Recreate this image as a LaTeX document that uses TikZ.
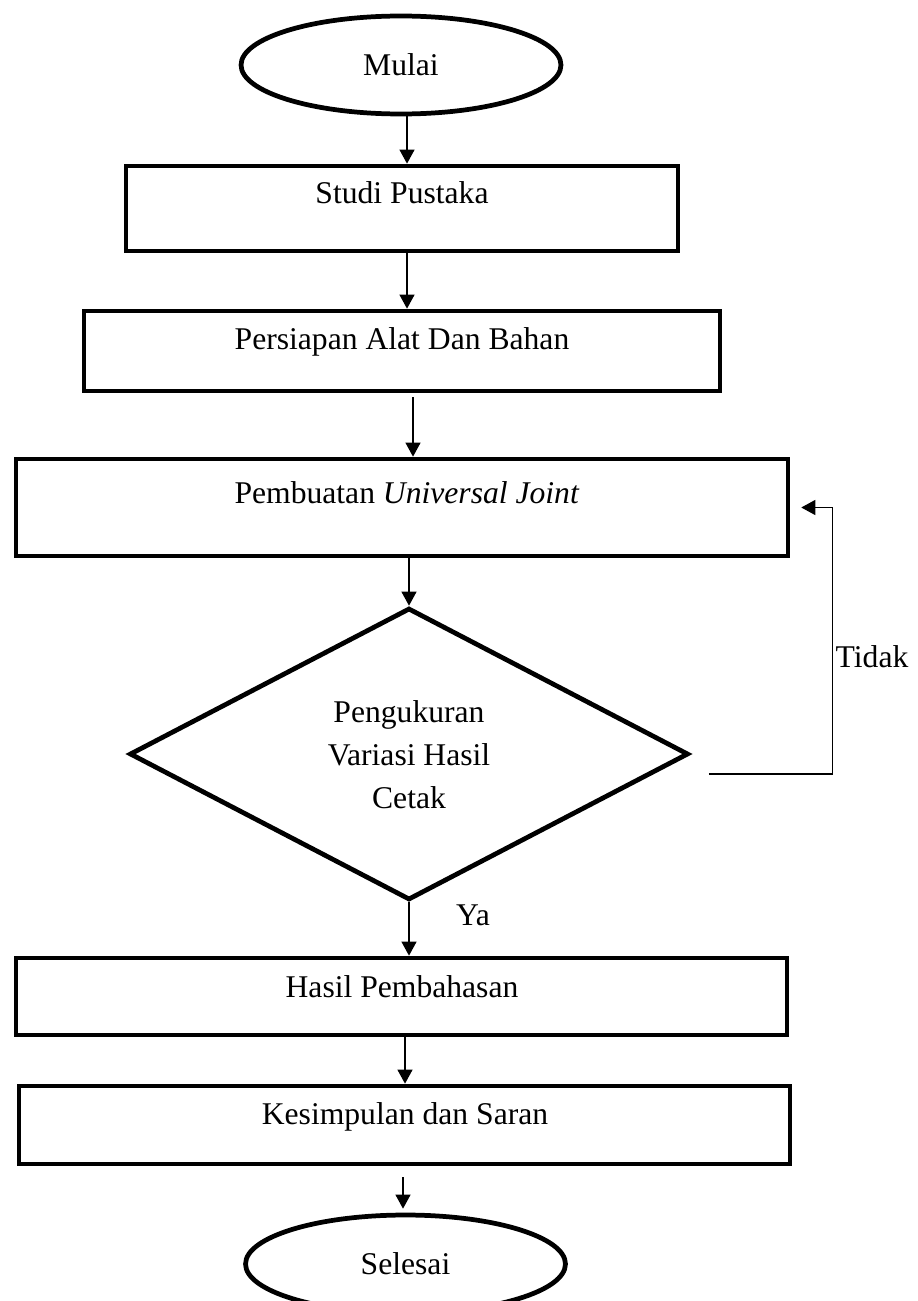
\documentclass[tikz,border=0pt]{standalone}
\usepackage{fontspec}
\setmainfont{Liberation Serif}
\usetikzlibrary{shapes.geometric,arrows.meta}
\begin{document}
\begin{tikzpicture}[x=0.02cm,y=-0.02cm,
  box/.style={draw, line width=2.7pt, rectangle, inner sep=0pt},
  term/.style={draw, line width=2.7pt, ellipse, inner sep=0pt, minimum width=6.4cm, minimum height=1.96cm, font=\fontsize{18}{22}\selectfont},
  lbl/.style={font=\fontsize{18}{24.4}\selectfont, inner sep=0pt, align=center},
  arr/.style={line width=0.7pt, -{Triangle[length=0.28cm,width=0.3cm]}},
  link/.style={line width=0.7pt}]
\useasboundingbox (0,0) rectangle (917,1301);

% shapes
\node[term] (mulai) at (401,65) {Mulai};
\node[box, minimum width=11.04cm, minimum height=1.7cm] (studi) at (402,208.5) {};
\node[box, minimum width=12.72cm, minimum height=1.6cm] (persiapan) at (402,351) {};
\node[box, minimum width=15.44cm, minimum height=1.94cm] (pembuatan) at (402,507.5) {};
\node[draw, diamond, line width=2.7pt, inner sep=0pt, minimum width=11.18cm, minimum height=5.84cm] (dec) at (409,754) {};
\node[box, minimum width=15.42cm, minimum height=1.54cm] (hasil) at (401.5,996.5) {};
\node[box, minimum width=15.42cm, minimum height=1.56cm] (kesimpulan) at (404.5,1125) {};
\node[term] (selesai) at (405.5,1264) {Selesai};

% texts
\node[lbl] (tstudi) at (402,193) {Studi Pustaka};
\node[lbl] (tpersiapan) at (402,342) {Persiapan Alat Dan Bahan};
\node[lbl] (tpembuatan) at (407,493) {Pembuatan \textit{Universal Joint}};
\node[lbl] (tdec) at (409,755) {Pengukuran\\Variasi Hasil\\Cetak};
\node[lbl] (thasil) at (402,987) {Hasil Pembahasan};
\node[lbl] (tkesimpulan) at (405,1117) {Kesimpulan dan Saran};
\node[lbl] (ttidak) at (872,657) {Tidak};
\node[lbl] (tya) at (473,915) {Ya};

% connectors
\coordinate (a1) at ([xshift=0.12cm]mulai.south);
\draw[arr] (a1) -- (a1 |- studi.north);
\coordinate (a2) at ([xshift=0.1cm]studi.south);
\draw[arr] (a2) -- (a2 |- persiapan.north);
\coordinate (a3) at ([xshift=0.22cm]persiapan.south);
\draw[arr, shorten <=0.08cm] (a3) -- (a3 |- pembuatan.north);
\draw[arr] (pembuatan.south -| dec.north) -- (dec.north);
\draw[arr] (dec.south) -- (dec.south |- hasil.north);
\coordinate (a6) at ([xshift=0.07cm]hasil.south);
\draw[arr] (a6) -- (a6 |- kesimpulan.north);
\coordinate (a7) at ([xshift=-0.03cm]kesimpulan.south);
\draw[arr, shorten <=0.22cm, shorten >=0.08cm] (a7) -- (a7 |- selesai.north);
\coordinate (b1) at ([xshift=0.36cm,yshift=-0.4cm]dec.east);
\coordinate (b2) at ([xshift=0.84cm]pembuatan.east);
\draw[arr] (b1) -| (b2) -- ([xshift=0.22cm]pembuatan.east);
\end{tikzpicture}
\end{document}
